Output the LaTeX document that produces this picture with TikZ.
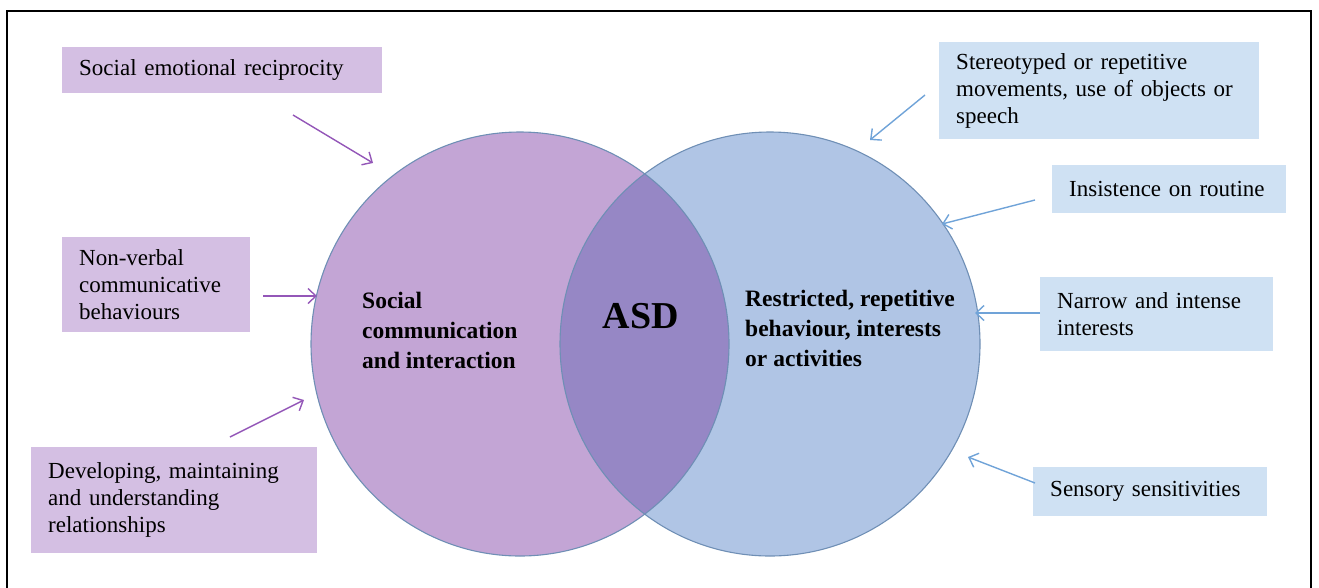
\documentclass[tikz,border=0pt]{standalone}
\usepackage{fontspec}
\setmainfont{Liberation Serif}
\usetikzlibrary{arrows.meta}
\definecolor{socialfill}{HTML}{C3A5D5}
\definecolor{restrictfill}{HTML}{B0C5E5}
\definecolor{lensfill}{HTML}{9687C5}
\definecolor{circleline}{HTML}{6F8FB5}
\definecolor{purplebox}{HTML}{D4BFE3}
\definecolor{bluebox}{HTML}{CFE1F3}
\definecolor{purplearrow}{HTML}{9457B8}
\definecolor{bluearrow}{HTML}{70A3D8}
\tikzset{
  itembox/.style={anchor=north west, align=left, inner xsep=17pt, inner ysep=0pt,
    font=\fontsize{23}{27}\selectfont},
  pbox/.style={itembox, fill=purplebox},
  bbox/.style={itembox, fill=bluebox},
  parrow/.style={draw=purplearrow, line width=1.4pt, -{Straight Barb[length=8pt,width=15pt]}},
  barrow/.style={draw=bluearrow, line width=1.4pt, -{Straight Barb[length=8pt,width=15pt]}},
  biglabel/.style={anchor=west, align=left, inner sep=0pt, font=\bfseries\fontsize{23.5}{30}\selectfont}
}
\begin{document}
\begin{tikzpicture}[x=1pt,y=-1pt]
\useasboundingbox (0,0) rectangle (1319,587);
% outer frame, open at the bottom
\draw[line width=2pt] (7,595) -- (7,11) -- (1311,11) -- (1311,595);

% the two domains and their overlap
\fill[socialfill] (520,344) ellipse [x radius=209, y radius=212];
\fill[restrictfill] (770,344) ellipse [x radius=210, y radius=212];
\begin{scope}
  \clip (520,344) ellipse [x radius=209, y radius=212];
  \fill[lensfill] (770,344) ellipse [x radius=210, y radius=212];
\end{scope}
\draw[circleline, line width=1.1pt] (520,344) ellipse [x radius=209, y radius=212];
\draw[circleline, line width=1.1pt] (770,344) ellipse [x radius=210, y radius=212];

\node[biglabel] (social) at (362,330) {Social\\communication\\and interaction};
\node[biglabel] (restrict) at (745,328) {Restricted, repetitive\\behaviour, interests\\or activities};
\node[inner sep=0pt, font=\bfseries\fontsize{38}{40}\selectfont] (asd) at (641,316) {ASD};

% social communication items
\node[pbox, text width=286pt, minimum height=46pt] (sero) at (62,47) {Social emotional reciprocity};
\node[pbox, text width=154pt, minimum height=95pt] (nonverbal) at (62,237) {Non-verbal\\communicative\\behaviours};
\node[pbox, text width=252pt, minimum height=106pt] (relations) at (31,447) {Developing, maintaining\\and understanding\\relationships};

% restricted behaviour items
\node[bbox, text width=286pt, minimum height=97pt] (stereo) at (939,42) {Stereotyped or repetitive\\movements, use of objects or\\speech};
\node[bbox, text width=200pt, minimum height=48pt] (routine) at (1052,165) {Insistence on routine};
\node[bbox, text width=199pt, minimum height=74pt] (narrow) at (1040,277) {Narrow and intense\\interests};
\node[bbox, text width=200pt, minimum height=49pt] (sensory) at (1033,467) {Sensory sensitivities};

% arrow end points
\coordinate (a1s) at (293,115); \coordinate (a1e) at (373,163);
\coordinate (a2s) at (263,296); \coordinate (a2e) at (317,296);
\coordinate (a3s) at (230,437); \coordinate (a3e) at (304,400);
\coordinate (b1s) at (925,95);  \coordinate (b1e) at (870,140);
\coordinate (b2s) at (1035,200); \coordinate (b2e) at (942,224);
\coordinate (b3s) at (1040,313); \coordinate (b3e) at (975,313);
\coordinate (b4s) at (1035,483); \coordinate (b4e) at (968,457);

\draw[parrow] (a1s) -- (a1e);
\draw[parrow] (a2s) -- (a2e);
\draw[parrow] (a3s) -- (a3e);
\draw[barrow] (b1s) -- (b1e);
\draw[barrow] (b2s) -- (b2e);
\draw[barrow] (b3s) -- (b3e);
\draw[barrow] (b4s) -- (b4e);
\end{tikzpicture}
\end{document}
